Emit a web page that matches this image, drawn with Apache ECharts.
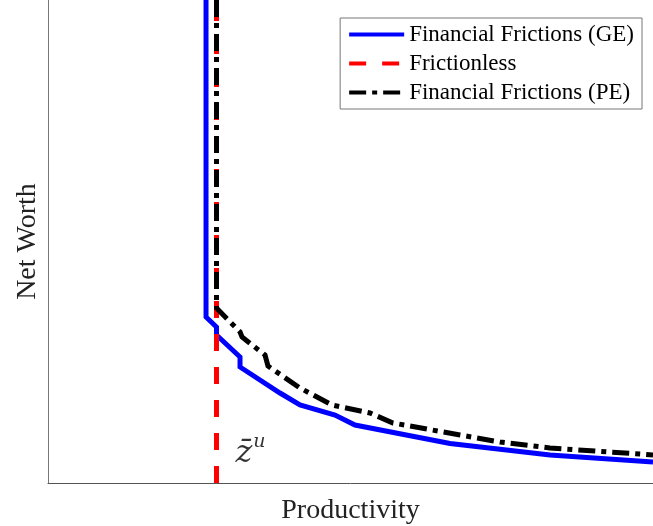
<!DOCTYPE html>
<html>
<head>
<meta charset="utf-8">
<script src="https://cdn.jsdelivr.net/npm/echarts@6/dist/echarts.min.js"></script>
<style>html,body{margin:0;padding:0;background:#fff;}#c{width:653px;height:526px;}</style>
</head>
<body>
<div id="c"></div>
<script>
// Financial Frictions (GE)
const geX = [26.12, 26.12, 27.85, 27.85, 31.74, 31.74, 38.35, 41.65, 47.44, 50.74, 66.45, 82.98, 100];
const geY = [100, 34.37, 32.30, 30.64, 26.09, 24.02, 18.63, 16.15, 14.08, 12.01, 8.18, 5.80, 4.35];
// Frictionless
const flX = [27.85, 27.85];
const flY = [0, 100];
// Financial Frictions (PE)
const peX = [27.85, 27.85, 31.74, 32.07, 35.87, 36.36, 41.65, 46.94, 53.22, 57.02, 68.10, 74.71, 82.98, 100];
const peY = [100, 36.23, 31.26, 30.23, 26.50, 24.22, 19.67, 16.15, 14.49, 12.42, 9.94, 8.49, 7.25, 5.80];
// annotation
const zuLabelPos = [27.85, 6.6];

const seriesNames = ['Financial Frictions (GE)', 'Frictionless', 'Financial Frictions (PE)'];
const xAxisName = 'Productivity';
const yAxisName = 'Net Worth';

const zip = (xs, ys) => xs.map((x, i) => [x, ys[i]]);
const FONT = 'Liberation Serif';

const chart = echarts.init(document.getElementById('c'), null, {renderer: 'canvas'});
chart.setOption({
  animation: false,
  backgroundColor: '#fff',
  textStyle: {fontFamily: FONT, color: '#000'},
  grid: {left: 48, right: 0, top: 0, bottom: 43, containLabel: false, outerBoundsMode: 'none'},
  xAxis: {
    type: 'value', min: 0, max: 100,
    name: xAxisName, nameLocation: 'middle', nameGap: 14,
    nameTextStyle: {fontFamily: FONT, fontSize: 28, color: '#222'},
    axisLine: {show: true, lineStyle: {color: '#555', width: 1}},
    axisTick: {show: false}, axisLabel: {show: false}, splitLine: {show: false}
  },
  yAxis: {
    type: 'value', min: 0, max: 100,
    name: yAxisName, nameLocation: 'middle', nameGap: 6, nameRotate: 90,
    nameTextStyle: {fontFamily: FONT, fontSize: 28, color: '#222'},
    axisLine: {show: true, lineStyle: {color: '#777', width: 1}},
    axisTick: {show: false}, axisLabel: {show: false}, splitLine: {show: false}
  },
  legend: {
    orient: 'vertical', right: 11, top: 18,
    padding: [5, 8, 5, 7],
    itemWidth: 55, itemHeight: 14, itemGap: 6,
    backgroundColor: '#fff', borderColor: '#777', borderWidth: 1, borderRadius: 0,
    textStyle: {fontFamily: FONT, fontSize: 23, color: '#000', lineHeight: 23},
    lineStyle: {width: 4},
    itemStyle: {opacity: 0, borderWidth: 0},
    data: seriesNames
  },
  series: [
    {
      name: seriesNames[0], type: 'line', data: zip(geX, geY),
      symbol: 'none', showSymbol: false, clip: true,
      lineStyle: {color: '#0000ff', width: 5, join: 'miter'},
      itemStyle: {color: '#0000ff'}, z: 2
    },
    {
      name: seriesNames[1], type: 'line', data: zip(flX, flY),
      symbol: 'none', showSymbol: false, clip: true,
      lineStyle: {color: '#ff0000', width: 5, type: [17, 16]},
      itemStyle: {color: '#ff0000'}, z: 3
    },
    {
      name: seriesNames[2], type: 'line', data: zip(peX, peY),
      symbol: 'none', showSymbol: false, clip: true,
      lineStyle: {color: '#000000', width: 5, type: [17, 6, 5, 6], join: 'miter'},
      itemStyle: {color: '#000000'}, z: 4
    },
    {
      type: 'scatter', data: [zuLabelPos], symbolSize: 0, silent: true, z: 5,
      label: {
        show: true, position: 'right', distance: 19,
        formatter: '{z|z\u0304}{u|u}',
        rich: {
          z: {fontFamily: 'DejaVu Serif', fontStyle: 'italic', fontSize: 32, color: '#000', verticalAlign: 'bottom'},
          u: {fontFamily: 'DejaVu Serif', fontStyle: 'italic', fontSize: 19, color: '#000', verticalAlign: 'bottom', padding: [0, 0, 18, 1]}
        }
      }
    }
  ]
});
</script>
</body>
</html>
